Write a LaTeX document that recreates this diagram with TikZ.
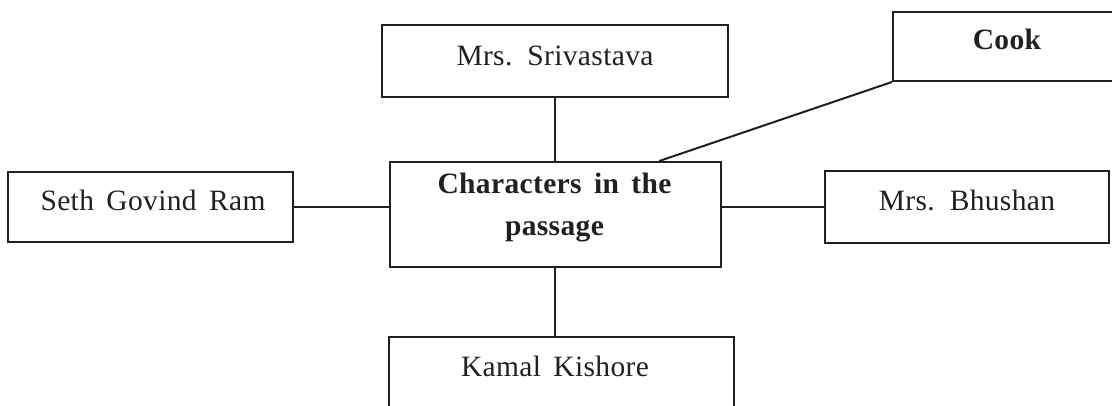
\documentclass[tikz,border=0pt]{standalone}
\usepackage{fontspec}
\setmainfont{Liberation Serif}[LetterSpace=1.2,WordSpace={1.6,1,1}]
\usetikzlibrary{calc}
\definecolor{ink}{HTML}{231F20}
\begin{document}
\begin{tikzpicture}[x=1pt,y=-1pt,
  box/.style={draw=ink,line width=2pt,rectangle,inner sep=0pt},
  lbl/.style={anchor=base,inner sep=0pt,text=ink,font=\fontsize{29.5}{34}\selectfont},
  blbl/.style={lbl,font=\fontsize{29.5}{34}\selectfont\bfseries},
  link/.style={draw=ink,line width=2pt}]
\useasboundingbox (0,0) rectangle (1112,405);
\clip (0,0) rectangle (1112,405);
% boxes
\node[box,minimum width=346pt,minimum height=72pt] (sri) at (555,61) {};
\node[box,minimum width=331pt,minimum height=105pt] (ctr) at (555,214.5) {};
\node[box,minimum width=237pt,minimum height=69pt] (cook) at (1011.5,46.5) {};
\node[box,minimum width=285pt,minimum height=70pt] (seth) at (150.5,207) {};
\node[box,minimum width=284pt,minimum height=72pt] (bhu) at (967,207) {};
\node[box,minimum width=345pt,minimum height=93pt] (kam) at (561.5,383.5) {};
% texts
\node[lbl] (tsri) at (555,65) {Mrs. Srivastava};
\node[blbl] (tctr1) at (554.5,193) {Characters in the};
\node[blbl] (tctr2) at (554.5,235) {passage};
\node[blbl] (tcook) at (1007,49) {Cook};
\node[lbl] (tseth) at (153,210) {Seth Govind Ram};
\node[lbl] (tbhu) at (967,210) {Mrs. Bhushan};
\node[lbl] (tkam) at (555,376) {Kamal Kishore};
% connectors
\draw[link] (sri.south) -- (sri.south |- ctr.north);
\draw[link] (ctr.south) -- (ctr.south |- kam.north);
\draw[link] (seth.east) -- (seth.east -| ctr.west);
\draw[link] (ctr.east |- bhu.west) -- (bhu.west);
\draw[link] ($(ctr.north west)!0.813!(ctr.north east)$) -- (cook.south west);
\end{tikzpicture}
\end{document}
